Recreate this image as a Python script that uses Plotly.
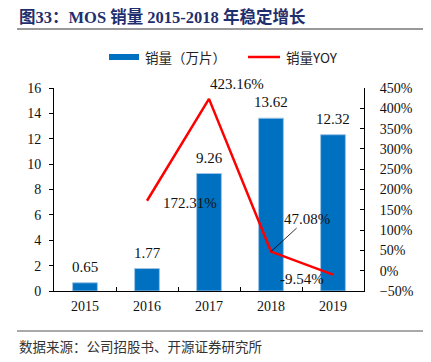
import plotly.graph_objects as go

years = ["2015", "2016", "2017", "2018", "2019"]
sales = [0.65, 1.77, 9.26, 13.62, 12.32]
yoy_years = ["2016", "2017", "2018", "2019"]
yoy = [172.31, 423.16, 47.08, -9.54]

SERIF = "Liberation Serif, Times New Roman, Noto Sans CJK SC, serif"
CJK = "Noto Sans CJK SC, sans-serif"

# the page body has an 8px default margin; the figure is sized to fit the window
OFF = 8
W, H = 431 - OFF, 362 - OFF
L, T, PW, PH = 54 - OFF, 88 - OFF, 310, 203

fig = go.Figure()
fig.add_trace(go.Bar(x=years, y=sales, name="销量（万片）",
                     marker=dict(color="#0070C0", line=dict(color="#9DC3E6", width=1)),
                     showlegend=False))
fig.add_trace(go.Scatter(x=yoy_years, y=yoy, name="销量YOY", yaxis="y2", mode="lines",
                         line=dict(color="#FF0000", width=2.5), showlegend=False))

ann = []
for i, v in enumerate(sales):
    ann.append(dict(x=i, y=v, xref="x", yref="y", text=f"{v:.2f}", showarrow=False,
                    yshift=16, font=dict(family=SERIF, size=15, color="#111")))
# line labels (offsets in pixels)
offs = {"2016": (43, -2), "2017": (28, 15), "2018": (36, 33), "2019": (-31, -4)}
for x, v in zip(yoy_years, yoy):
    i = years.index(x)
    dx, dy = offs[x]
    a = dict(x=i, y=v, xref="x", yref="y2", text=f"{v:.2f}%",
             font=dict(family=SERIF, size=15, color="#111"))
    if x == "2018":
        a.update(showarrow=True, arrowhead=0, arrowwidth=0.8, arrowcolor="#000",
                 ax=dx, ay=-dy, standoff=0)
    else:
        a.update(showarrow=False, xshift=dx, yshift=dy)
    ann.append(a)

def px(x):
    return (x - OFF - L) / PW

def py(y):
    return (T + PH - (y - OFF)) / PH

# title, legend, source
ann.append(dict(xref="paper", yref="paper", x=px(17), y=py(17),
                xanchor="left", yanchor="middle", showarrow=False,
                text="<b>图33：MOS 销量 2015-2018 年稳定增长</b>",
                font=dict(family="Liberation Serif, Noto Sans CJK SC", size=16.5, color="#1F2F6E")))
ann.append(dict(xref="paper", yref="paper", x=px(143), y=py(57),
                xanchor="left", yanchor="middle", showarrow=False, text="销量（万片）",
                font=dict(family=CJK, size=13.5, color="#222")))
ann.append(dict(xref="paper", yref="paper", x=px(284), y=py(57),
                xanchor="left", yanchor="middle", showarrow=False, text="销量YOY",
                font=dict(family=CJK, size=13.5, color="#222")))
ann.append(dict(xref="paper", yref="paper", x=px(17), y=py(346),
                xanchor="left", yanchor="middle", showarrow=False,
                text="数据来源：公司招股书、开源证券研究所",
                font=dict(family=CJK, size=13.5, color="#333")))

shapes = [
    dict(type="line", xref="paper", yref="paper", x0=px(17), x1=px(428), y0=py(29), y1=py(29),
         line=dict(color="#999999", width=2)),
    dict(type="line", xref="paper", yref="paper", x0=px(17), x1=px(428), y0=py(331), y1=py(331),
         line=dict(color="#555555", width=1)),
    dict(type="rect", xref="paper", yref="paper", x0=px(109), x1=px(139), y0=py(60), y1=py(54),
         fillcolor="#0070C0", line=dict(width=0)),
    dict(type="line", xref="paper", yref="paper", x0=px(248), x1=px(280), y0=py(57), y1=py(57),
         line=dict(color="#FF0000", width=2.5)),
]

fig.update_layout(
    width=W, height=H,
    margin=dict(l=L, r=W - L - PW, t=T, b=H - T - PH),
    paper_bgcolor="white", plot_bgcolor="white",
    bargap=0.6,
    annotations=ann, shapes=shapes,
    font=dict(family=SERIF, size=14, color="#111"),
    xaxis=dict(type="category", range=[-0.5, 4.5], autorange=False, showline=True,
               linecolor="#000", linewidth=1,
               ticks="inside", ticklen=4, tickcolor="#000", tickson="boundaries",
               showgrid=False, tickfont=dict(family=SERIF, size=14), ticklabelstandoff=2),
    yaxis=dict(range=[0, 16], dtick=2, showline=True, linecolor="#000", linewidth=1,
               ticks="outside", ticklen=4, tickcolor="#000", showgrid=False, zeroline=False,
               tickfont=dict(family=SERIF, size=14), ticklabelstandoff=5),
    yaxis2=dict(range=[-50, 450], dtick=50, overlaying="y", side="right", showline=True,
                linecolor="#000", linewidth=1, ticks="inside", ticklen=4, tickcolor="#000",
                ticksuffix="%", showgrid=False, zeroline=False,
                tickfont=dict(family=SERIF, size=14), ticklabelstandoff=12),
)

fig.write_html("out.html")
